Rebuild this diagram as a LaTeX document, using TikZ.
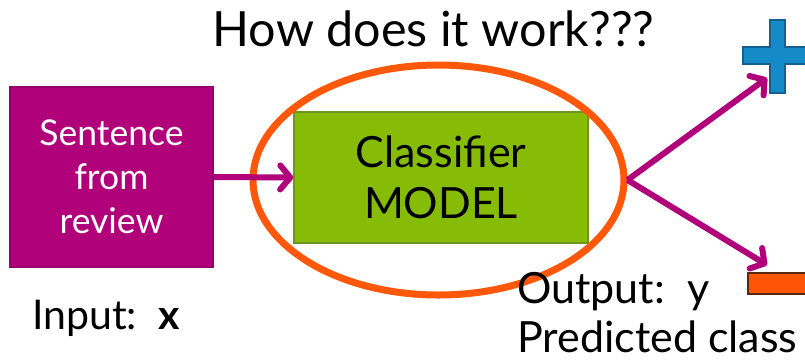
\documentclass[tikz,border=0pt]{standalone}
\usepackage{fontspec}
\setmainfont{Lato}
\usetikzlibrary{shapes.geometric,arrows.meta}
\definecolor{mag}{RGB}{176,0,122}
\definecolor{magborder}{RGB}{150,0,104}
\definecolor{modelgreen}{RGB}{134,188,6}
\definecolor{modelborder}{RGB}{110,150,30}
\definecolor{ringorange}{RGB}{255,88,10}
\definecolor{plusblue}{RGB}{20,138,198}
\definecolor{plusborder}{RGB}{20,96,143}
\definecolor{minusorange}{RGB}{255,85,5}
\definecolor{minusborder}{RGB}{90,40,15}
\begin{document}
\begin{tikzpicture}[x=1pt,y=-1pt,
  flow/.style={draw=mag, line width=6pt, -{Straight Barb[length=10pt,width=24pt,round]}},
  srcbox/.style={rectangle, fill=mag, draw=magborder, line width=1.2pt, text=white, align=center,
    minimum width=203pt, minimum height=180pt, inner sep=0pt, font=\fontsize{35.5}{44}\selectfont},
  modelbox/.style={rectangle, fill=modelgreen, draw=modelborder, line width=1.5pt, align=center,
    minimum width=294pt, minimum height=131pt, inner sep=0pt, font=\fontsize{43}{51}\selectfont},
  ring/.style={ellipse, draw=ringorange, line width=7pt, minimum width=371pt, minimum height=230pt, inner sep=0pt},
  lbl/.style={anchor=base west, inner sep=0pt, font=\fontsize{43}{50}\selectfont},
]
\useasboundingbox (0,0) rectangle (805,360);
\fill[white] (0,0) rectangle (805,360);

\node[anchor=base, inner sep=0pt, font=\fontsize{48.5}{56}\selectfont] (title) at (433.5,46.7) {How does it work???};

\node[srcbox] (src) at (111.5,177) {Sentence\\from\\review};
\node[modelbox] (model) at (441,177.5) {Classifier\\MODEL};
\node[ring] (ell) at (438.5,180) {};

\coordinate (tipP) at (767,78);
\coordinate (tipM) at (767,265);

\draw[flow] (src.east) -- (model.west);
\draw[flow] (ell.east) -- (tipP);
\draw[flow] (ell.east) -- (tipM);

\filldraw[fill=plusblue, draw=plusborder, line width=1.5pt]
  (770,20) -- (785,20) -- (785,47) -- (812,47) -- (812,64) -- (785,64) -- (785,93)
  -- (770,93) -- (770,64) -- (743,64) -- (743,47) -- (770,47) -- cycle;
\filldraw[fill=minusorange, draw=minusborder, line width=1.2pt] (748,273) rectangle (812,294);

\node[lbl] (out) at (517,303) {Output:\ \ y};
\node[lbl] (pred) at (517,352) {Predicted class};
\node[lbl, font=\fontsize{41}{48}\selectfont] (in) at (32,329) {Input:\ \ {\fontspec{Lato Bold}x}};
\end{tikzpicture}
\end{document}
